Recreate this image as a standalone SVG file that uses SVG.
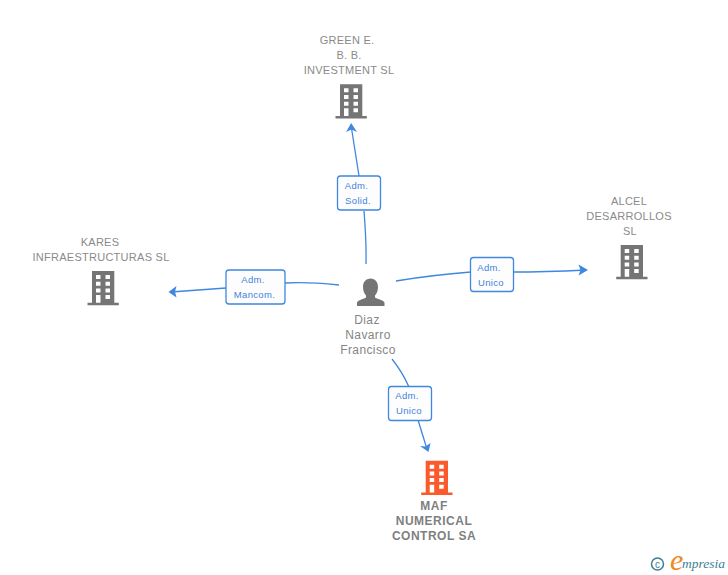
<svg xmlns="http://www.w3.org/2000/svg" width="728" height="575" viewBox="0 0 728 575">
<style>
text{font-family:"Liberation Sans",Arial,sans-serif}
.n{font-size:11px;fill:#8a8a8a;text-anchor:middle;letter-spacing:.27px}
.m{font-size:12px;fill:#7f7f7f;text-anchor:middle;font-weight:bold;letter-spacing:.5px}
.p{font-size:12px;fill:#858585;text-anchor:middle;letter-spacing:.4px}
.l{font-size:9.5px;fill:#3f83dc;text-anchor:middle;letter-spacing:.35px}
.c{fill:none;stroke:#3f87e0;stroke-width:1.3}
.b{fill:#fdfdfd;stroke:#3f87e0;stroke-width:1.3}
.a{fill:#3f87e0}
.br{fill:#3d7f93}
</style>
<defs>
<g id="bld">
<path fill-rule="evenodd" d="M0 0H22.3V31.7H26.8V34.2H-4.5V31.7H0ZM4 4V8H8.500V4ZM13.500 4V8H18V4ZM4 10.700V14.700H8.500V10.700ZM13.500 10.700V14.700H18V10.700ZM4 17.400V21.400H8.500V17.400ZM13.500 17.400V21.400H18V17.400ZM4 24V31.700H8.500V24ZM13.500 24V28H18V24Z"/>
</g>
</defs>
<g id="connectors">
<path class="c" d="M366 264C366.500 240 365 225 364 211"/>
<path class="c" d="M359 176L351 125"/>
<path class="a" d="M351.200 123L357 132L351.500 129.500L346 132Z"/>
<path class="c" d="M339 285C320 283 300 282 285 283"/>
<path class="c" d="M226 288L171 292"/>
<path class="a" d="M168.500 292L176.500 286L175 291.700L176.500 297.500Z"/>
<path class="c" d="M396 281C420 277 445 274 471 272"/>
<path class="c" d="M513 272C540 272 565 271 586 270"/>
<path class="a" d="M588 270L578.500 275.500L580.500 270.200L578.500 264.500Z"/>
<path class="c" d="M392 359C400 369 405 378 409 387"/>
<path class="c" d="M418 420L427 449"/>
<path class="a" d="M428.500 452L420 446L425.500 446.500L430.500 443Z"/>
</g>
<g id="node-green">
<text class="n" x="347" y="44">GREEN E.</text>
<text class="n" x="349" y="59">B. B.</text>
<text class="n" x="349" y="74">INVESTMENT SL</text>
<use href="#bld" x="340" y="84.300" fill="#757575"/>
</g>
<g id="node-alcel">
<text class="n" x="629" y="205">ALCEL</text>
<text class="n" x="629" y="220">DESARROLLOS</text>
<text class="n" x="630" y="235">SL</text>
<use href="#bld" x="620.700" y="245" fill="#757575"/>
</g>
<g id="node-kares">
<text class="n" x="100" y="246">KARES</text>
<text class="n" x="101" y="261">INFRAESTRUCTURAS SL</text>
<use href="#bld" x="92" y="271" fill="#757575"/>
</g>
<g id="node-maf">
<use href="#bld" x="425.700" y="460.700" fill="#fb5a2c"/>
<text class="m" x="434" y="510">MAF</text>
<text class="m" x="434" y="525">NUMERICAL</text>
<text class="m" x="434" y="540">CONTROL SA</text>
</g>
<g id="node-person">
<path fill="#757575" d="M370.500 278.500C375 278.500 378 282 378 287C378 291 376.500 294 375 295.500V297.500C378 299.500 384.500 300 384.500 303V306H357V303C357 300 363 299.500 366 297.500V295.500C364.500 294 363 291 363 287C363 282 366 278.500 370.500 278.500Z"/>
<text class="p" x="367" y="324">Diaz</text>
<text class="p" x="368" y="339">Navarro</text>
<text class="p" x="368" y="354">Francisco</text>
</g>
<g id="edge-label-solid">
<rect class="b" x="337.500" y="176" width="43" height="34" rx="3"/>
<text class="l" x="356.500" y="189">Adm.</text>
<text class="l" x="358" y="204">Solid.</text>
</g>
<g id="edge-label-mancom">
<rect class="b" x="226" y="270" width="59" height="34" rx="3"/>
<text class="l" x="253" y="283">Adm.</text>
<text class="l" x="254.500" y="298">Mancom.</text>
</g>
<g id="edge-label-alcel">
<rect class="b" x="470.500" y="257.500" width="43" height="34" rx="3"/>
<text class="l" x="489" y="271">Adm.</text>
<text class="l" x="491" y="286">Unico</text>
</g>
<g id="edge-label-maf">
<rect class="b" x="388.500" y="386.500" width="43" height="34" rx="3"/>
<text class="l" x="407" y="399">Adm.</text>
<text class="l" x="409" y="414">Unico</text>
</g>
<g id="brand">
<circle cx="657.500" cy="564" r="6" fill="none" stroke="#3d7f93" stroke-width="1.500"/>
<text class="br" x="657.500" y="567.500" font-size="10" text-anchor="middle">c</text>
<text x="670" y="569.500" font-size="30" fill="#f08a1d" style="font-family:'Liberation Serif',serif" font-style="italic">e</text>
<text class="br" x="682" y="568" font-size="13.500" style="font-family:'Liberation Serif',serif" font-style="italic">mpresia</text>
</g>
</svg>
